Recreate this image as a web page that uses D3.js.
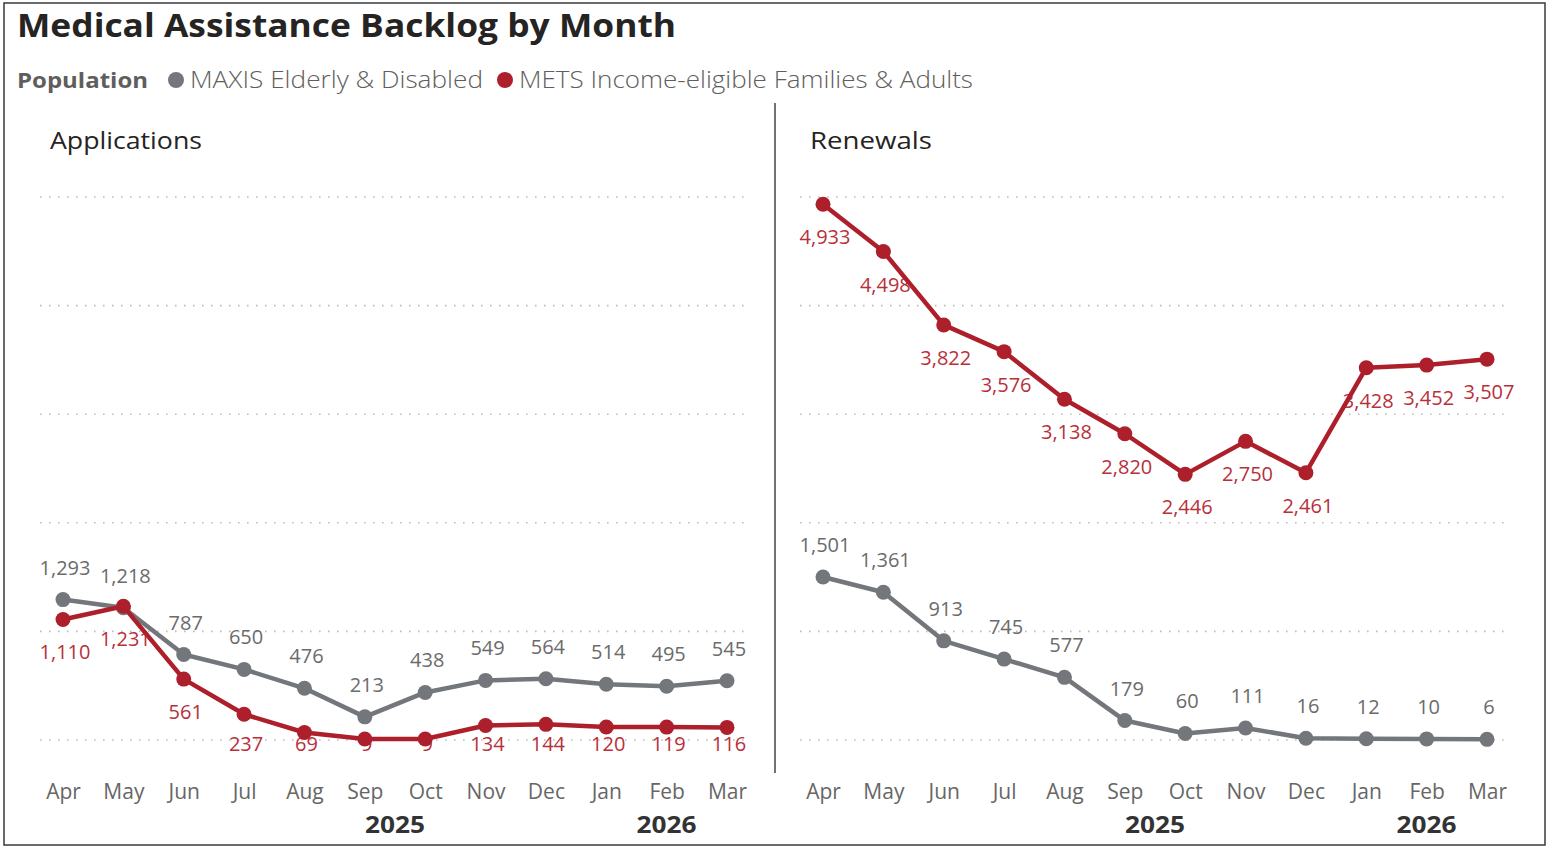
<!DOCTYPE html>
<html>
<head>
<meta charset="utf-8">
<script src="https://cdn.jsdelivr.net/npm/d3@7"></script>
<style>
  body { margin: 0; background: #fff; }
  text { font-family: "Open Sans", "Noto Sans", sans-serif; }
</style>
</head>
<body>
<div id="chart-container"></div>
<script>
const width = 1547;
const height = 847;

const months = ["Apr", "May", "Jun", "Jul", "Aug", "Sep", "Oct", "Nov", "Dec", "Jan", "Feb", "Mar"];
const years = [{ label: "2025", at: 5.5 }, { label: "2026", at: 10 }];
const yTicks = [0, 1000, 2000, 3000, 4000, 5000];

const seriesNames = ["MAXIS Elderly & Disabled", "METS Income-eligible Families & Adults"];
const seriesColors = ["#73777b", "#ad1f2b"];
const labelColors = ["#6b6b6b", "#b8303a"];

// Applications
const appMaxis = [1293, 1218, 787, 650, 476, 213, 438, 549, 564, 514, 495, 545];
const appMets = [1110, 1231, 561, 237, 69, 9, 9, 134, 144, 120, 119, 116];
// Renewals
const renMaxis = [1501, 1361, 913, 745, 577, 179, 60, 111, 16, 12, 10, 6];
const renMets = [4933, 4498, 3822, 3576, 3138, 2820, 2446, 2750, 2461, 3428, 3452, 3507];

const panels = [
  { title: "Applications", titleW: 152, left: 40, right: 745, series: [appMaxis, appMets] },
  { title: "Renewals", titleW: 122, left: 800, right: 1505, series: [renMaxis, renMets] }
];

const svg = d3.select("#chart-container")
  .append("svg")
  .attr("width", width)
  .attr("height", height)
  .attr("viewBox", [0, 0, width, height]);

// frame
svg.append("rect")
  .attr("x", 4).attr("y", 3)
  .attr("width", width - 6).attr("height", height - 5)
  .attr("fill", "none")
  .attr("stroke", "#3a3a3a")
  .attr("stroke-width", 1.5);

svg.append("text")
  .attr("x", 17).attr("y", 37)
  .attr("font-family", "Roboto")
  .attr("font-weight", 700)
  .attr("font-size", 33)
  .attr("fill", "#252423")
  .attr("textLength", 659)
  .attr("lengthAdjust", "spacingAndGlyphs")
  .text("Medical Assistance Backlog by Month");

// legend
const legend = svg.append("g").attr("transform", "translate(0,80)");
legend.append("text")
  .attr("x", 17).attr("dy", "0.35em")
  .attr("font-family", "Roboto")
  .attr("font-weight", 700)
  .attr("font-size", 22)
  .attr("fill", "#605e5c")
  .attr("textLength", 131)
  .attr("lengthAdjust", "spacingAndGlyphs")
  .text("Population");
const legendX = [176, 505];
const legendW = [293, 454];
seriesNames.forEach((name, i) => {
  legend.append("circle").attr("cx", legendX[i]).attr("r", 8).attr("fill", seriesColors[i]);
  legend.append("text")
    .attr("x", legendX[i] + 14).attr("dy", "0.35em")
    .attr("font-family", "Roboto")
    .attr("font-weight", 300)
    .attr("font-size", 23)
    .attr("fill", "#605e5c")
    .attr("textLength", legendW[i])
    .attr("lengthAdjust", "spacingAndGlyphs")
    .text(name);
});

// divider
svg.append("line")
  .attr("x1", 775).attr("x2", 775)
  .attr("y1", 103).attr("y2", 773)
  .attr("stroke", "#444").attr("stroke-width", 1.5);

const y = d3.scaleLinear([0, 5000], [740, 197]);
const fmt = d3.format(",");

panels.forEach(p => {
  const g = svg.append("g");
  const x = d3.scalePoint(months, [p.left + 23, p.right - 18]);

  g.append("text")
    .attr("x", p.left + 10).attr("y", 141).attr("dy", "0.35em")
    .attr("font-family", "Roboto")
    .attr("font-weight", 500)
    .attr("font-size", 23)
    .attr("fill", "#252423")
    .attr("textLength", p.titleW)
    .attr("lengthAdjust", "spacingAndGlyphs")
    .text(p.title);

  g.append("g").selectAll("line")
    .data(yTicks)
    .join("line")
    .attr("x1", p.left).attr("x2", p.right)
    .attr("y1", d => y(d)).attr("y2", d => y(d))
    .attr("stroke", "#bdbdbd")
    .attr("stroke-width", 1.6)
    .attr("stroke-dasharray", "1.6,7.4");

  // month axis
  const xAxis = g.append("g")
    .attr("transform", "translate(0,784)")
    .call(d3.axisBottom(x).tickSize(0).tickPadding(0));
  xAxis.select(".domain").remove();
  xAxis.selectAll("text")
    .attr("dy", "0.71em")
    .attr("font-family", "Open Sans")
    .attr("font-size", 21)
    .attr("fill", "#666");

  const step = x.step();
  g.selectAll("text.year")
    .data(years)
    .join("text")
    .attr("class", "year")
    .attr("x", d => x(months[0]) + d.at * step)
    .attr("y", 825).attr("dy", "0.35em")
    .attr("text-anchor", "middle")
    .attr("font-family", "Roboto")
    .attr("font-weight", 700)
    .attr("font-size", 24)
    .attr("fill", "#333")
    .attr("textLength", 60)
    .attr("lengthAdjust", "spacingAndGlyphs")
    .text(d => d.label);

  // data labels (drawn under the lines)
  p.series.forEach((vals, si) => {
    const above = si === 0;
    g.append("g").selectAll("text")
      .data(vals)
      .join("text")
      .attr("x", (d, i) => x(months[i]) + 2)
      .attr("y", d => above ? y(d) - 32 : Math.min(y(d) + 33, 744))
      .attr("dy", "0.35em")
      .attr("text-anchor", "middle")
      .attr("font-size", 20)
      .attr("fill", labelColors[si])
      .text(d => fmt(d));
  });

  const line = d3.line()
    .x((d, i) => x(months[i]))
    .y(d => y(d));

  p.series.forEach((vals, si) => {
    g.append("path")
      .datum(vals)
      .attr("d", line)
      .attr("fill", "none")
      .attr("stroke", seriesColors[si])
      .attr("stroke-width", 4.5)
      .attr("stroke-linejoin", "round");
    g.append("g").selectAll("circle")
      .data(vals)
      .join("circle")
      .attr("cx", (d, i) => x(months[i]))
      .attr("cy", d => y(d))
      .attr("r", 7.5)
      .attr("fill", seriesColors[si]);
  });
});
</script>
</body>
</html>
